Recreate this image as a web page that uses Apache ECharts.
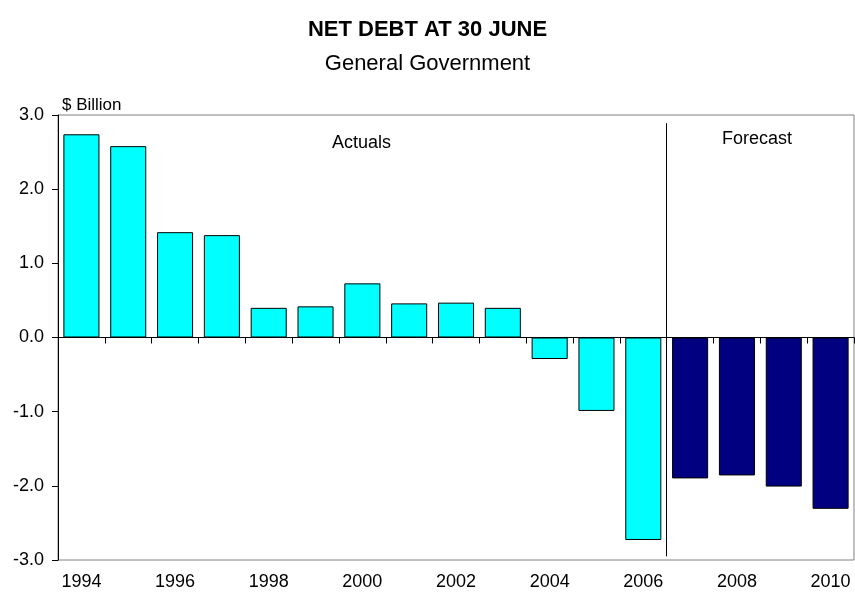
<!DOCTYPE html>
<html>
<head>
<meta charset="utf-8">
<script src="https://cdn.jsdelivr.net/npm/echarts@6/dist/echarts.min.js"></script>
<style>
html,body{margin:0;padding:0;background:#fff;}
#chart{width:855px;height:597px;}
</style>
</head>
<body>
<div id="chart"></div>
<script>
var years = ['1994','1995','1996','1997','1998','1999','2000','2001','2002','2003','2004','2005','2006','2007','2008','2009','2010'];
var actualValues = [2.74, 2.58, 1.42, 1.38, 0.40, 0.42, 0.73, 0.46, 0.47, 0.40, -0.29, -0.99, -2.73];
var forecastValues = [-1.90, -1.86, -2.01, -2.31];
var yTicks = [-3, -2, -1, 0, 1, 2, 3];
var dividerPosition = 13; // boundary between actuals and forecast (in category units)

var FONT = 'Liberation Sans, Arial, sans-serif';

var actualSeries = years.map(function (y, i) { return i < actualValues.length ? actualValues[i] : '-'; });
var forecastSeries = years.map(function (y, i) { return i >= actualValues.length ? forecastValues[i - actualValues.length] : '-'; });

var chart = echarts.init(document.getElementById('chart'), null, {renderer: 'canvas'});
chart.setOption({
  animation: false,
  backgroundColor: '#ffffff',
  title: {
    text: 'NET DEBT AT 30 JUNE',
    subtext: 'General Government',
    left: 'center',
    top: 14,
    itemGap: 12,
    textStyle: {fontFamily: FONT, fontWeight: 'bold', fontSize: 22, color: '#000'},
    subtextStyle: {fontFamily: FONT, fontSize: 22, color: '#000'}
  },
  grid: {
    left: 58, right: 1, top: 115, height: 445,
    show: true, borderColor: '#808080', borderWidth: 1, backgroundColor: 'transparent'
  },
  xAxis: [
    {
      type: 'category', data: years, position: 'bottom',
      axisLine: {show: true, onZero: true, lineStyle: {color: '#000', width: 1}},
      axisTick: {show: true, interval: 0, length: 6, lineStyle: {color: '#000'}},
      axisLabel: {show: false},
      splitLine: {show: false}
    },
    {
      type: 'category', data: years, position: 'bottom',
      axisLine: {show: false, onZero: false},
      axisTick: {show: false},
      axisLabel: {show: true, interval: 1, margin: 13, fontFamily: FONT, fontSize: 18, color: '#000'},
      splitLine: {show: false}
    },
    {
      type: 'value', min: 0, max: years.length, show: false
    }
  ],
  yAxis: {
    type: 'value', min: yTicks[0], max: yTicks[yTicks.length - 1], interval: 1,
    axisLine: {show: true, onZero: false, lineStyle: {color: '#000', width: 1}},
    axisTick: {show: true, length: 6, lineStyle: {color: '#000'}},
    axisLabel: {margin: 14, fontFamily: FONT, fontSize: 18, color: '#000',
      formatter: function (v) { return v.toFixed(1); }},
    splitLine: {show: false},
    name: '$ Billion',
    nameLocation: 'end',
    nameGap: 1,
    nameTextStyle: {fontFamily: FONT, fontSize: 17, color: '#000', align: 'left', padding: [0, 0, 0, 4]}
  },
  graphic: [
    {type: 'text', left: 332, top: 134, style: {text: 'Actuals', font: '18px ' + FONT, fill: '#000'}},
    {type: 'text', left: 722, top: 130, style: {text: 'Forecast', font: '18px ' + FONT, fill: '#000'}}
  ],
  series: [
    {
      name: 'Actuals', type: 'bar', data: actualSeries, xAxisIndex: 0,
      barCategoryGap: '23%', barGap: '-100%',
      itemStyle: {color: '#00FFFF', borderColor: '#000', borderWidth: 1}
    },
    {
      name: 'Forecast', type: 'bar', data: forecastSeries, xAxisIndex: 0,
      barCategoryGap: '23%', barGap: '-100%',
      itemStyle: {color: '#000080', borderColor: '#000', borderWidth: 1}
    },
    {
      name: 'divider', type: 'line', xAxisIndex: 2, data: [], silent: true,
      markLine: {
        silent: true, symbol: ['none', 'none'], label: {show: false},
        lineStyle: {color: '#000', width: 1, type: 'solid'},
        data: [[{coord: [dividerPosition, 2.89]}, {coord: [dividerPosition, -2.95]}]]
      }
    }
  ]
});
</script>
</body>
</html>
